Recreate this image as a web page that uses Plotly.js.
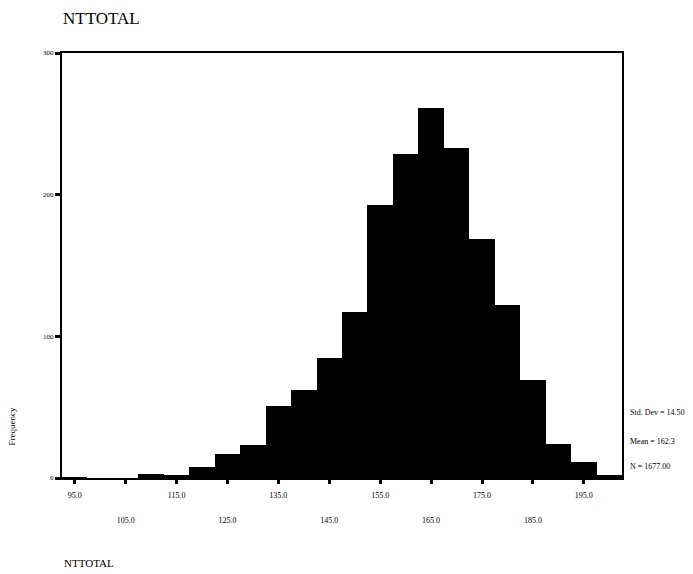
<!DOCTYPE html>
<html>
<head>
<meta charset="utf-8">
<script src="https://cdn.plot.ly/plotly-3.0.1.min.js"></script>
<style>html,body{margin:0;padding:0;background:#fff}#chart{width:693px;height:574px}</style>
</head>
<body>
<div id="chart"></div>
<script>
// Histogram of NTTOTAL (bin centres, width 5)
var binCenters = [95,100,105,110,115,120,125,130,135,140,145,150,155,160,165,170,175,180,185,190,195,200];
var frequencies = [1,0,0,3,2,8,17,23,51,62,85,117,193,229,261,233,169,122,69,24,11,2];
var tickLower = [95,115,135,155,175,195];
var tickUpper = [105,125,145,165,185];
var yTicks = [0,100,200,300];
var statsLines = ['Std. Dev = 14.50','Mean = 162.3','N = 1677.00'];
var statsY = [46,26,8];

var serif = 'Liberation Serif, Times New Roman, serif';
function fmt(v){return v.toFixed(1);}

var allTicks = tickLower.concat(tickUpper).sort(function(a,b){return a-b;});
var allText = allTicks.map(function(v){return tickLower.indexOf(v)>=0?fmt(v):'';});

var data = [
  {type:'bar', x:binCenters, y:frequencies, width:5,
   marker:{color:'#000', line:{width:0}}, hoverinfo:'x+y'},
  {type:'scatter', mode:'markers', x:[tickUpper[0]], y:[0], xaxis:'x2', yaxis:'y',
   marker:{opacity:0}, hoverinfo:'skip', showlegend:false}
];

var annotations = statsLines.map(function(t,i){
  return {text:t, xref:'paper', yref:'y', x:1.01, y:statsY[i], xanchor:'left', yanchor:'middle',
          showarrow:false, font:{family:serif, size:8, color:'#000'}};
});
annotations.push({text:'Frequency', xref:'paper', yref:'paper', x:-0.09, y:0.12, textangle:-90,
  xanchor:'center', yanchor:'middle', showarrow:false, font:{family:serif, size:9, color:'#000'}});
annotations.push({text:'NTTOTAL', xref:'paper', yref:'paper', x:0, y:-0.2, xanchor:'left', yanchor:'middle',
  showarrow:false, font:{family:serif, size:11, color:'#000'}});

var layout = {
  width:693, height:574,
  margin:{l:62, r:71, t:53, b:96},
  paper_bgcolor:'#fff', plot_bgcolor:'#fff',
  showlegend:false, bargap:0,
  title:{text:'NTTOTAL', xref:'container', yref:'container', x:63/693, xanchor:'left', y:1-18/574, yanchor:'middle',
         font:{family:serif, size:17, color:'#000'}},
  xaxis:{range:[92.5,202.5], tickvals:allTicks, ticktext:allText, ticks:'outside', ticklen:4, tickwidth:3, tickcolor:'#000',
         showline:true, linecolor:'#000', linewidth:2, mirror:true, showgrid:false, zeroline:false, ticklabelstandoff:4,
         tickfont:{family:serif, size:8, color:'#000'}},
  xaxis2:{range:[92.5,202.5], overlaying:'x', anchor:'y', side:'bottom', tickvals:tickUpper, ticktext:tickUpper.map(fmt),
          ticks:'', showline:false, showgrid:false, zeroline:false, ticklabelstandoff:36,
          tickfont:{family:serif, size:8, color:'#000'}},
  yaxis:{range:[0,300], tickvals:yTicks, ticktext:yTicks.map(String), ticks:'outside', ticklen:5, tickwidth:3, tickcolor:'#000',
         showline:true, linecolor:'#000', linewidth:2, mirror:true, showgrid:false, zeroline:false,
         tickfont:{family:serif, size:7, color:'#000'}},
  annotations:annotations
};

Plotly.newPlot('chart', data, layout, {displayModeBar:false, staticPlot:true});
</script>
</body>
</html>
